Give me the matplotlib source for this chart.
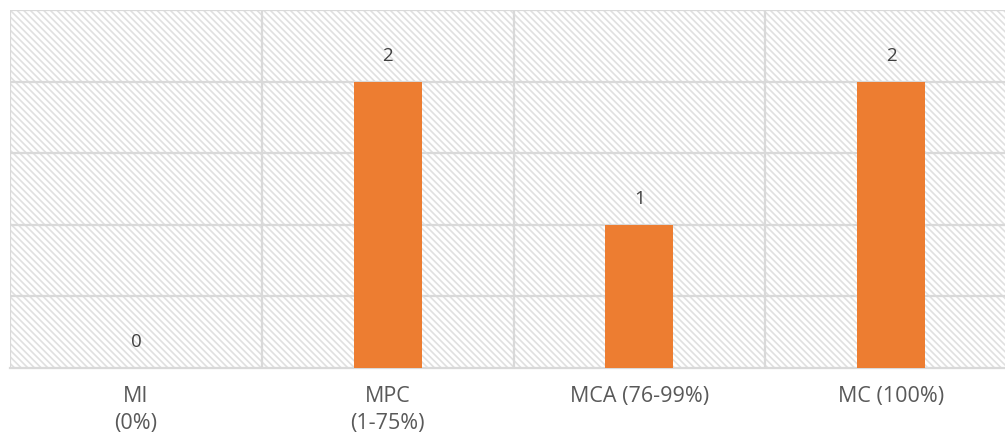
"""
Bar chart with hatched plot area (recreation)
"""

import matplotlib
matplotlib.use('Agg')
import matplotlib.pyplot as plt
from matplotlib.patches import Rectangle

categories = ['MI\n(0%)', 'MPC\n(1-75%)', 'MCA (76-99%)', 'MC (100%)']
values = [0, 2, 1, 2]

plt.rcParams['font.family'] = ['Open Sans', 'DejaVu Sans']
plt.rcParams['hatch.color'] = '#e0e0e0'
plt.rcParams['hatch.linewidth'] = 1.2

fig = plt.figure(figsize=(10.05, 4.38), dpi=100)
ax = fig.add_axes([10 / 1005, 70 / 438, 1007 / 1005, 358 / 438])

# hatched background of the plot area
ax.add_patch(Rectangle((0, 0), 1, 1, transform=ax.transAxes, facecolor='white',
                       edgecolor='#e0e0e0', hatch='\\' * 5, linewidth=0, zorder=0))

x = list(range(len(categories)))
bars = ax.bar(x, values, width=0.27, color='#ED7D31', zorder=3)

for xi, v in zip(x, values):
    ax.text(xi, v + 0.18, str(v), ha='center', va='center', fontsize=13.5,
            color='#404040', zorder=4)

ax.set_xlim(-0.5, 3.5)
ax.set_ylim(0, 2.5)

# horizontal gridlines
for yv in [0.5, 1.0, 1.5, 2.0, 2.5]:
    ax.axhline(yv, color='#d9d9d9', linewidth=1.6, zorder=1)
# vertical category separators
for xv in [-0.5, 0.5, 1.5, 2.5]:
    ax.axvline(xv, color='#d9d9d9', linewidth=1.6, zorder=1)

ax.set_xticks(x)
ax.set_xticklabels(categories, fontsize=15.5, color='#595959', linespacing=1.4)
ax.tick_params(axis='x', length=0, pad=13)
ax.set_yticks([])

for side in ['top', 'right', 'left']:
    ax.spines[side].set_visible(False)
ax.spines['bottom'].set_color('#d9d9d9')
ax.spines['bottom'].set_linewidth(1.6)

fig.savefig('out.png', dpi=100)
